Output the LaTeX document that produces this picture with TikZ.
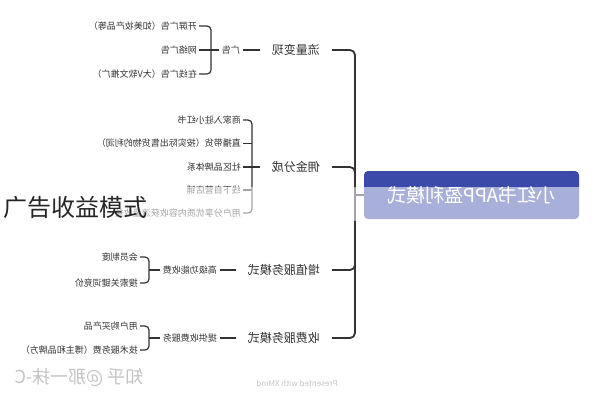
\documentclass[tikz,border=0pt]{standalone}
\usepackage{fontspec}
\setmainfont{Noto Sans CJK SC}
\definecolor{rootblue}{HTML}{3B4AA8}
\definecolor{ink}{HTML}{333333}
\definecolor{wmark}{HTML}{C4C4C4}
\begin{document}
\begin{tikzpicture}[x=1pt,y=-1pt,
  conn/.style={draw=ink, line width=1.8pt},
  brk/.style={draw=ink, line width=1.2pt, rounded corners=4pt},
  rootbox/.style={fill=rootblue, text=white, rounded corners=4pt, minimum width=215pt, minimum height=48pt, inner sep=0pt, font=\fontsize{19}{22}\selectfont},
  topicnode/.style={anchor=west, inner xsep=12pt, inner ysep=2pt, text=ink, font=\fontsize{12}{14}\selectfont},
  subnode/.style={anchor=west, inner xsep=3pt, inner ysep=1pt, text=ink, font=\fontsize{9}{11}\selectfont},
  leafnode/.style={anchor=west, inner xsep=2pt, inner ysep=1pt, text=ink, font=\fontsize{9}{11}\selectfont}]
\path[use as bounding box, fill=white] (0,0) rectangle (596,400);
\begin{scope}[shift={(596,0)}, xscale=-1, transform shape]
  % root
  \node[rootbox] (root) at (124.5,195) {小红书APP盈利模式};
  \coordinate (hub) at (241,195);
  % main topics
  \node[topicnode] (t1) at (264,50) {流量变现};
  \node[topicnode] (t2) at (264,167) {佣金分成};
  \node[topicnode] (t3) at (264,270) {增值服务模式};
  \node[topicnode] (t4) at (264,338) {收费服务模式};
  \draw[conn] (root.east) -- (hub);
  \draw[conn, rounded corners=5pt] (hub) |- (t1.west);
  \draw[conn, rounded corners=5pt] (hub) |- (t2.west);
  \draw[conn, rounded corners=5pt] (hub) |- (t3.west);
  \draw[conn, rounded corners=5pt] (hub) |- (t4.west);
  % branch 1
  \node[subnode] (s1) at (353,50) {广告};
  \draw[conn] (t1.east) -- (s1.west);
  \coordinate (b1) at (385,50);
  \node[leafnode] (l11) at (397,26) {开屏广告（如美妆产品等）};
  \node[leafnode] (l12) at (397,50) {网络广告};
  \node[leafnode] (l13) at (397,74) {在线广告（大V软文推广）};
  \draw[brk] (s1.east) -- (l12.west);
  \draw[brk] (l11.west) -- (l11.west -| b1) -- (l13.west -| b1) -- (l13.west);
  % branch 2
  \coordinate (b2) at (344,167);
  \node[leafnode] (l21) at (353,120) {商家入驻小红书};
  \node[leafnode] (l22) at (353,143.5) {直播带货（按实际出售货物的利润）};
  \node[leafnode] (l23) at (353,167) {社区品牌体系};
  \node[leafnode] (l24) at (353,190) {线下自营店铺};
  \node[leafnode] (l25) at (353,213) {用户分享优质内容收获流量收益};
  \draw[brk] (t2.east) -- (l23.west);
  \draw[brk] (l21.west) -- (l21.west -| b2) -- (l25.west -| b2) -- (l25.west);
  \draw[brk] (l22.west -| b2) -- (l22.west);
  \draw[brk] (l24.west -| b2) -- (l24.west);
  % branch 3
  \node[subnode] (s3) at (376,270) {高级功能收费};
  \draw[conn] (t3.east) -- (s3.west);
  \coordinate (b3) at (447,270);
  \node[leafnode] (l31) at (456,257) {会员制度};
  \node[leafnode] (l32) at (456,283) {搜索关键词竞价};
  \draw[brk] (s3.east) -- (b3);
  \draw[brk] (l31.west) -- (l31.west -| b3) -- (l32.west -| b3) -- (l32.west);
  % branch 4
  \node[subnode] (s4) at (376,338) {提供收费服务};
  \draw[conn] (t4.east) -- (s4.west);
  \coordinate (b4) at (447,338);
  \node[leafnode] (l41) at (456,326) {用户购买产品};
  \node[leafnode] (l42) at (456,350) {技术服务费（博主和品牌方）};
  \draw[brk] (s4.east) -- (b4);
  \draw[brk] (l41.west) -- (l41.west -| b4) -- (l42.west -| b4) -- (l42.west);
  % watermarks
  \node[text=wmark, font=\fontsize{18}{20}\selectfont, inner sep=0pt] (wm) at (517,377) {知乎 @那一抹-C};
  \node[text=gray!45, font=\fontsize{8}{9}\selectfont, inner sep=0pt] (xm) at (299,383) {Presented with XMind};
\end{scope}
% faded band
\fill[white, opacity=0.56] (0,186.5) rectangle (596,221);
\node[anchor=west, inner sep=0pt, text=black!85, font=\fontsize{24}{26}\selectfont] (title) at (3,207) {广告收益模式};
\end{tikzpicture}
\end{document}
